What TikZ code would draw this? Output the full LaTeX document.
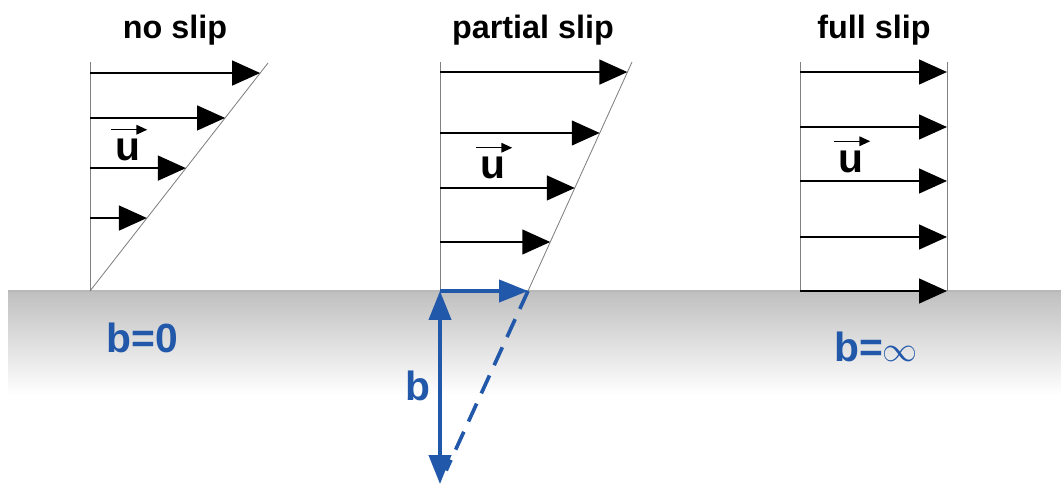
\documentclass[tikz,border=0pt]{standalone}
\usepackage{fontspec}
\setmainfont{Liberation Sans}
\usetikzlibrary{arrows.meta,calc}

\definecolor{slipblue}{RGB}{34,88,170}

\tikzset{
    wall/.style={gray, line width=0.6pt},
    vel/.style={line width=1.4pt, -{Triangle[length=0.7cm, width=0.62cm]}},
    uvec/.style={line width=0.9pt, -{Triangle[length=0.27cm, width=0.24cm]}},
    slip/.style={slipblue, line width=2.6pt},
    sliphead/.tip={Triangle[length=0.72cm, width=0.55cm]},
    title/.style={font=\bfseries\fontsize{23}{26}\selectfont, anchor=base},
    ulabel/.style={inner sep=0pt, font=\bfseries\fontsize{29}{30}\selectfont},
    blabel/.style={slipblue, font=\bfseries\fontsize{29}{32}\selectfont}
}

\begin{document}
\begin{tikzpicture}[x=0.025cm, y=-0.025cm]
    \useasboundingbox (0,0) rectangle (1061,487);

    % Solid surface (shaded)
    \shade[top color=black!25, bottom color=white] (8,291) rectangle (1061,395);
    \draw[black!28, line width=0.8pt] (8,291) -- (1061,291);

    % No slip: velocity vanishes at the wall
    \coordinate (nswall) at (90,62);
    \coordinate (nsbot) at (90,291);
    \coordinate (nstop) at (268,63);
    \draw[wall] (nswall) -- (nsbot);
    \draw[wall] (nsbot) -- (nstop);
    \foreach \t [count=\i] in {0.956,0.759,0.539,0.320} {
        \coordinate (nstip\i) at ($(nsbot)!\t!(nstop)$);
        \draw[vel] (nstip\i -| nswall) -- (nstip\i);
    }
    \node[title] (nstitle) at (175,38) {no slip};
    \node[ulabel] (nsu) at (127.5,150) {u};
    \draw[uvec] ([shift={(-4,-9)}]nsu.north west) -- ([shift={(7,-9)}]nsu.north east);
    \node[blabel] (nsb) at (142,338) {b=0};

    % Partial slip: finite velocity at the wall
    \coordinate (pswall) at (440,62);
    \coordinate (psorig) at (440,291);
    \coordinate (psbot) at (528,291);
    \coordinate (pstop) at (632,62);
    \coordinate (psdeep) at (440,484);
    \draw[wall] (pswall) -- (psorig);
    \draw[wall] (psbot) -- (pstop);
    \foreach \t [count=\i] in {0.956,0.690,0.450,0.214} {
        \coordinate (pstip\i) at ($(psbot)!\t!(pstop)$);
        \draw[vel] (pstip\i -| pswall) -- (pstip\i);
    }
    \draw[slip, -{sliphead}] (psorig) -- (psbot);
    \draw[slip, {sliphead}-{sliphead}] (psorig) -- (psdeep);
    \draw[slip, dash pattern=on 14pt off 8pt] (psbot) -- ($(psbot)!0.93!(psdeep)$);
    \node[title] (pstitle) at (533,38) {partial slip};
    \node[ulabel] (psu) at (492.5,168) {u};
    \draw[uvec] ([shift={(-4,-9)}]psu.north west) -- ([shift={(7,-9)}]psu.north east);
    \node[blabel] (psb) at (418,386) {b};

    % Full slip: plug flow
    \coordinate (fswall) at (800,62);
    \coordinate (fsbot) at (800,291);
    \coordinate (fsedge) at (947,62);
    \coordinate (fsedgebot) at (947,291);
    \draw[wall] (fswall) -- (fsbot);
    \draw[wall] (fsedge) -- (fsedgebot);
    \foreach \y [count=\i] in {72,127,181,237,291} {
        \coordinate (fsfrom\i) at (800,\y);
        \draw[vel] (fsfrom\i) -- (fsfrom\i -| fsedge);
    }
    \node[title] (fstitle) at (874,38) {full slip};
    \node[ulabel] (fsu) at (850.5,161.5) {u};
    \draw[uvec] ([shift={(-4,-9)}]fsu.north west) -- ([shift={(7,-9)}]fsu.north east);
    \node[blabel] (fsb) at (876,347) {b=$\infty$};
\end{tikzpicture}
\end{document}
